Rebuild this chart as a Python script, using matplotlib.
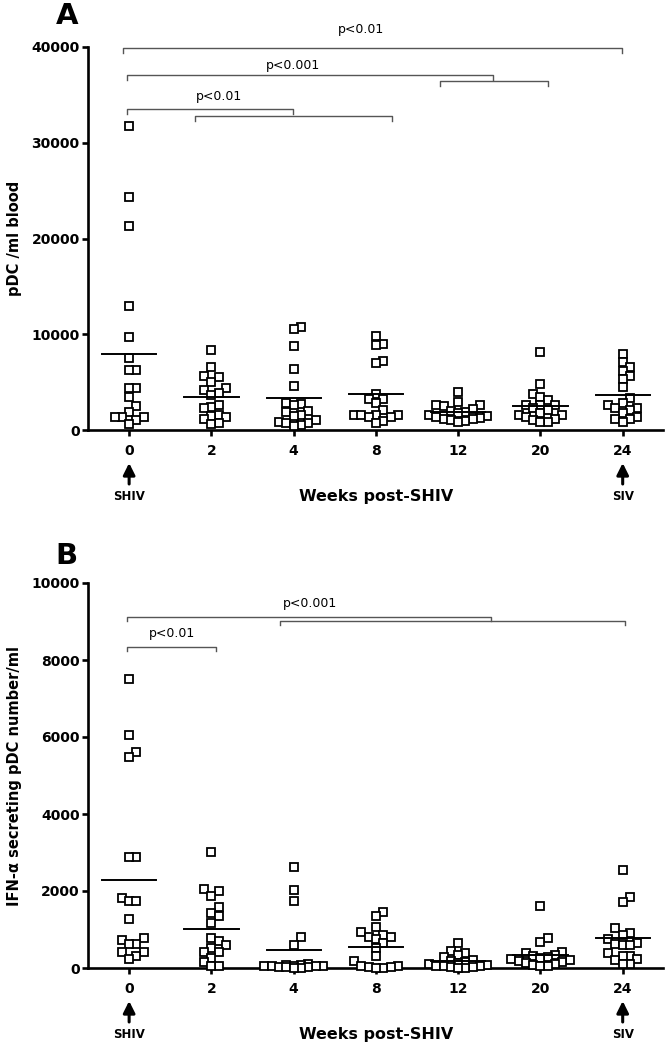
import matplotlib
matplotlib.use('Agg')
import matplotlib.pyplot as plt
import numpy as np

# Values (18 animals per time point)
weeks = ['0', '2', '4', '8', '12', '20', '24']

pdc_w0 = [31700, 24300, 21300, 13000, 9700, 7500, 6300, 6300, 4400, 4400, 3400, 2500, 1900, 1400, 1400, 1000, 1400, 600]
pdc_w2 = [8360, 6580, 5600, 5500, 5000, 4400, 4200, 3900, 3650, 2600, 2400, 2300, 1600, 1500, 1400, 1200, 700, 600]
pdc_w4 = [10760, 10550, 8770, 6370, 4600, 2800, 2700, 2610, 2000, 1880, 1570, 1500, 1040, 840, 730, 730, 520, 400]
pdc_w8 = [9820, 8980, 8880, 7200, 7000, 3760, 3240, 3240, 2820, 2090, 1570, 1570, 1570, 1570, 1400, 1400, 900, 730]
pdc_w12 = [3970, 2920, 2610, 2600, 2500, 2200, 2000, 1900, 1800, 1600, 1500, 1400, 1300, 1200, 1100, 1000, 900, 800]
pdc_w20 = [8150, 4800, 3760, 3450, 3130, 2610, 2610, 2610, 2300, 2100, 1780, 1570, 1570, 1400, 1200, 1040, 840, 840]
pdc_w24 = [7940, 7100, 6580, 6160, 5640, 5330, 4490, 3340, 2800, 2610, 2300, 2300, 2100, 1800, 1360, 1150, 1150, 840]

ifn_w0 = [7500, 6050, 5600, 5480, 2880, 2880, 1820, 1740, 1740, 1270, 780, 730, 620, 620, 420, 420, 310, 230]
ifn_w2 = [3010, 2050, 2000, 1870, 1590, 1430, 1350, 1170, 780, 700, 600, 520, 420, 420, 260, 160, 50, 50]
ifn_w4 = [2620, 2030, 1740, 800, 600, 100, 80, 70, 60, 50, 50, 40, 40, 30, 30, 20, 10, 0]
ifn_w8 = [1450, 1350, 1060, 940, 860, 800, 800, 750, 650, 520, 310, 180, 50, 40, 30, 20, 10, 0]
ifn_w12 = [640, 450, 380, 330, 280, 200, 180, 150, 120, 100, 80, 60, 50, 40, 30, 20, 10, 0]
ifn_w20 = [1610, 780, 680, 420, 400, 350, 300, 280, 250, 230, 200, 180, 150, 130, 100, 80, 60, 40]
ifn_w24 = [2550, 1850, 1720, 1040, 910, 860, 750, 650, 620, 600, 600, 390, 310, 310, 230, 210, 100, 100]

pdc = [pdc_w0, pdc_w2, pdc_w4, pdc_w8, pdc_w12, pdc_w20, pdc_w24]
ifn = [ifn_w0, ifn_w2, ifn_w4, ifn_w8, ifn_w12, ifn_w20, ifn_w24]

# significance brackets: (start, end, height) and labels: (text, x, y)
brackets_a = [(-0.07, 5.99, 39900), (-0.02, 4.42, 37080), (3.78, 5.09, 36450),
              (-0.02, 1.99, 33520), (0.80, 3.20, 32790)]
pvals_a = [('p<0.01', 2.82, 41780), ('p<0.001', 1.99, 38120), ('p<0.01', 1.09, 34780)]
brackets_b = [(-0.02, 4.40, 9117), (1.83, 6.03, 9013), (-0.02, 1.06, 8340)]
pvals_b = [('p<0.001', 2.20, 9480), ('p<0.01', 0.52, 8680)]

W, H = 666, 1046
fig = plt.figure(figsize=(W / 100, H / 100), dpi=100)


def swarm_offsets(vals, ax, step=7.3, gap=7.8, max_k=4):
    # simple prism-like column scatter, offsets returned in data units
    p0 = ax.transData.transform((0, 0))
    p1 = ax.transData.transform((1, 1))
    xs, ys = p1[0] - p0[0], p1[1] - p0[1]
    order = np.argsort(vals)
    placed = []
    offs = np.zeros(len(vals))
    ks = [0]
    for k in range(1, max_k + 1):
        ks += [k, -k]
    for i in order:
        y = vals[i] * ys
        best, best_hits = 0, None
        for k in ks:
            x = k * step
            hits = sum(1 for (px, py) in placed if abs(px - x) < step * 0.95 and abs(py - y) < gap)
            if hits == 0:
                best = x
                best_hits = 0
                break
            if best_hits is None or hits < best_hits:
                best, best_hits = x, hits
        placed.append((best, y))
        offs[i] = best / xs
    return offs


def panel(rect, data, ymax, ytop, yticks, brackets, pvals, ylabel, drop_px):
    ax = fig.add_axes(rect)
    ax.set_xlim(-0.5, 6.49)
    ax.set_ylim(0, ytop)
    for s in ['top', 'right']:
        ax.spines[s].set_visible(False)
    ax.spines['left'].set_bounds(0, ymax)
    ax.spines['left'].set_linewidth(1.9)
    ax.spines['bottom'].set_linewidth(1.9)
    ax.set_yticks(yticks)
    ax.set_yticklabels([str(t) for t in yticks], fontweight='bold', fontsize=10)
    ax.set_xticks(range(len(weeks)))
    ax.set_xticklabels(weeks, fontweight='bold', fontsize=10)
    ax.tick_params(axis='y', length=4.5, width=1.9, pad=1.5)
    ax.tick_params(axis='x', length=4, width=1.9, pad=6)

    ypx = ax.transData.transform((0, 1))[1] - ax.transData.transform((0, 0))[1]
    for i, vals in enumerate(data):
        vals = np.array(vals, dtype=float)
        offs = swarm_offsets(vals, ax)
        ax.plot(i + offs, vals, 's', ms=6, mfc='white', mec='black', mew=1.3,
                linestyle='none', clip_on=False, zorder=3)
        m = vals.mean()
        ax.plot([i - 0.33, i + 0.33], [m, m], color='black', lw=1.4, zorder=4)

    drop = drop_px / ypx
    for x1, x2, y in brackets:
        ax.plot([x1, x1, x2, x2], [y - drop, y, y, y - drop], color='#555555',
                lw=1.0, clip_on=False)
    for txt, x, y in pvals:
        ax.text(x, y, txt, ha='center', va='center', fontsize=9, clip_on=False)

    ax.set_ylabel(ylabel, fontweight='bold', fontsize=10.5)
    ax.yaxis.set_label_coords(-0.115, ymax / ytop / 2)

    # arrows and labels under the axis
    tr = ax.get_xaxis_transform()
    hpx = rect[3] * H
    f = lambda px: -px / hpx
    for x, name in [(0, 'SHIV'), (6, 'SIV')]:
        ax.annotate('', xy=(x, f(33)), xytext=(x, f(54)), xycoords=tr, textcoords=tr,
                    arrowprops=dict(arrowstyle='-|>,head_length=0.7,head_width=0.35',
                                    lw=2.2, color='black', shrinkA=0, shrinkB=0))
        ax.text(x, f(67), name, transform=tr, ha='center', va='center',
                fontweight='bold', fontsize=8.5)
    ax.text(3, f(66), 'Weeks post-SHIV', transform=tr, ha='center', va='center',
            fontweight='bold', fontsize=11.5)
    return ax


# panel A: y=0 at 430 px, 40000 at 47 px
a_top = 44000
a_h = a_top * (430 - 47) / 40000
panel([88 / W, 1 - 430 / H, 575 / W, a_h / H], pdc, 40000, a_top,
      [0, 10000, 20000, 30000, 40000], brackets_a, pvals_a, 'pDC /ml blood', 5)
fig.text(67 / W, 1 - 16 / H, 'A', ha='center', va='center', fontsize=21, fontweight='bold')

# panel B: y=0 at 968 px, 10000 at 583 px
panel([88 / W, 1 - 968 / H, 575 / W, (968 - 583) / H], ifn, 10000, 10000,
      [0, 2000, 4000, 6000, 8000, 10000], brackets_b, pvals_b,
      'IFN-\u03b1 secreting pDC number/ml', 4)
fig.text(66 / W, 1 - 556 / H, 'B', ha='center', va='center', fontsize=21, fontweight='bold')

fig.savefig('out.png', dpi=100)
